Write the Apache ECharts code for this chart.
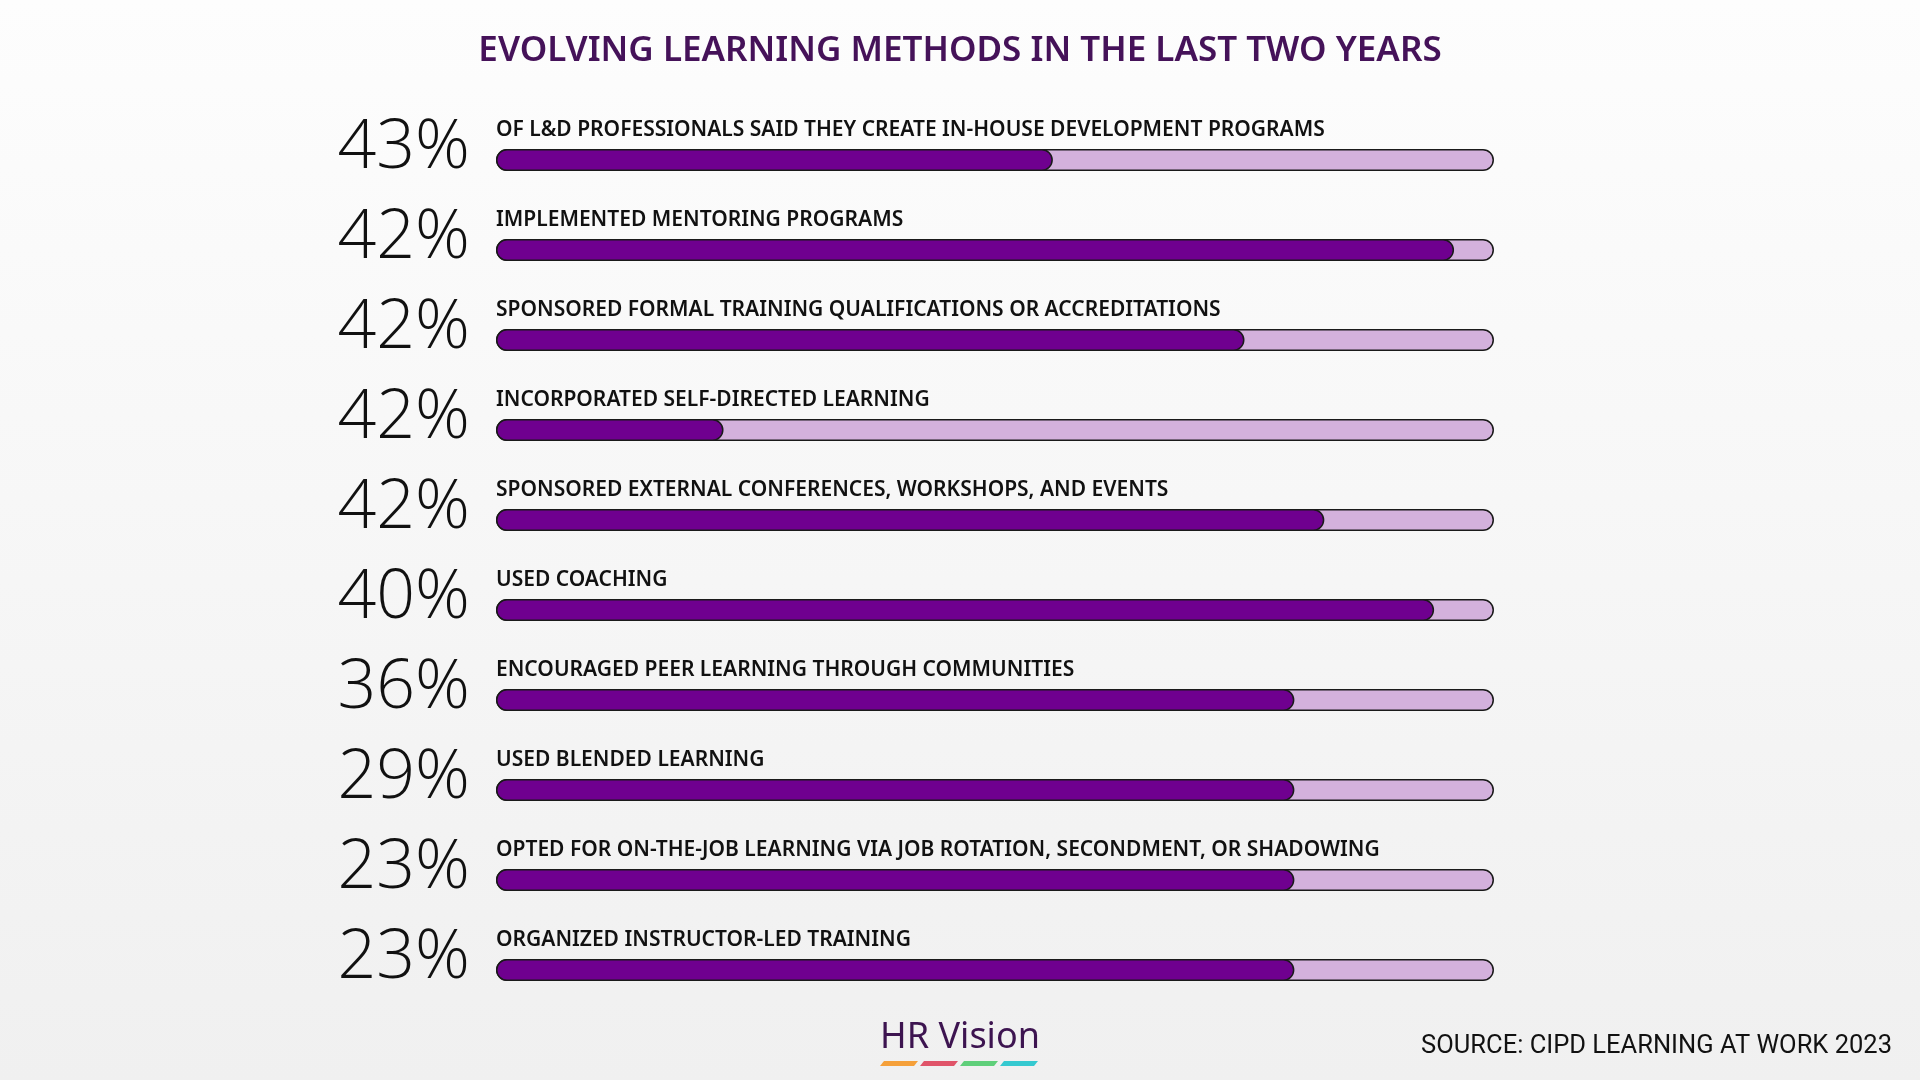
<!DOCTYPE html>
<html><head><meta charset="utf-8">
<script src="https://cdn.jsdelivr.net/npm/echarts@6/dist/echarts.min.js"></script>
<style>html,body{margin:0;padding:0;background:#f6f6f6}#c{width:1920px;height:1080px}</style>
</head><body><div id="c"></div>
<script>
const categories = [
 "OF L&D PROFESSIONALS SAID THEY CREATE IN-HOUSE DEVELOPMENT PROGRAMS",
 "IMPLEMENTED MENTORING PROGRAMS",
 "SPONSORED FORMAL TRAINING QUALIFICATIONS OR ACCREDITATIONS",
 "INCORPORATED SELF-DIRECTED LEARNING",
 "SPONSORED EXTERNAL CONFERENCES, WORKSHOPS, AND EVENTS",
 "USED COACHING",
 "ENCOURAGED PEER LEARNING THROUGH COMMUNITIES",
 "USED BLENDED LEARNING",
 "OPTED FOR ON-THE-JOB LEARNING VIA JOB ROTATION, SECONDMENT, OR SHADOWING",
 "ORGANIZED INSTRUCTOR-LED TRAINING"
];
const percentLabels = ["43%","42%","42%","42%","42%","40%","36%","29%","23%","23%"];
const barFill = [0.558,0.96,0.75,0.228,0.83,0.94,0.80,0.80,0.80,0.80];
const trackValues = [1,1,1,1,1,1,1,1,1,1];

const chart = echarts.init(document.getElementById('c'));
const logoColors = ['#f5a03a','#e05469','#5fcf7a','#35c9d0'];
const logoBars = logoColors.map((c,i)=>({
  type:'polygon', shape:{points:[[884+i*40,1061],[918+i*40,1061],[914+i*40,1066],[880+i*40,1066]]},
  style:{fill:c}
}));
chart.setOption({
  backgroundColor: new echarts.graphic.LinearGradient(0,0,0,1,[{offset:0,color:'#fdfdfd'},{offset:1,color:'#f0f0f0'}]),
  title:{text:'EVOLVING LEARNING METHODS IN THE LAST TWO YEARS', left:'center', top:29,
    textStyle:{fontFamily:'Noto Sans', fontWeight:600, fontSize:35, color:'#451259'}},
  grid:{left:496, right:426, top:115, height:900},
  xAxis:{type:'value', min:0, max:1, show:false},
  yAxis:{type:'category', data:categories, inverse:true, show:false},
  series:[
    {type:'bar', data:trackValues, barWidth:22, silent:true, z:1,
     itemStyle:{color:'#d3b1dc', borderColor:'#1a1a1a', borderWidth:1.5, borderRadius:11},
     label:{show:true, position:[0,-29], formatter:p=>categories[p.dataIndex],
       fontFamily:'Noto Sans', fontWeight:600, fontSize:21, color:'#111'}},
    {type:'bar', data:barFill, barWidth:22, barGap:'-100%', silent:true, z:2,
     itemStyle:{color:'#6f008f', borderColor:'#1a1a1a', borderWidth:1.5, borderRadius:11},
     label:{show:true, position:[-26,0], align:'right', verticalAlign:'middle',
       formatter:p=>percentLabels[p.dataIndex],
       fontFamily:'Open Sans', fontWeight:300, fontSize:68, color:'#111'}}
  ],
  graphic:[
    {type:'text', left:'center', top:1020, style:{text:'HR Vision', fontFamily:'Noto Sans', fontSize:36, fill:'#3d1450'}},
    ...logoBars,
    {type:'text', right:28, top:1034, style:{text:'SOURCE: CIPD LEARNING AT WORK 2023', fontFamily:'Roboto', fontSize:25.5, fill:'#111'}}
  ]
});
</script></body></html>
